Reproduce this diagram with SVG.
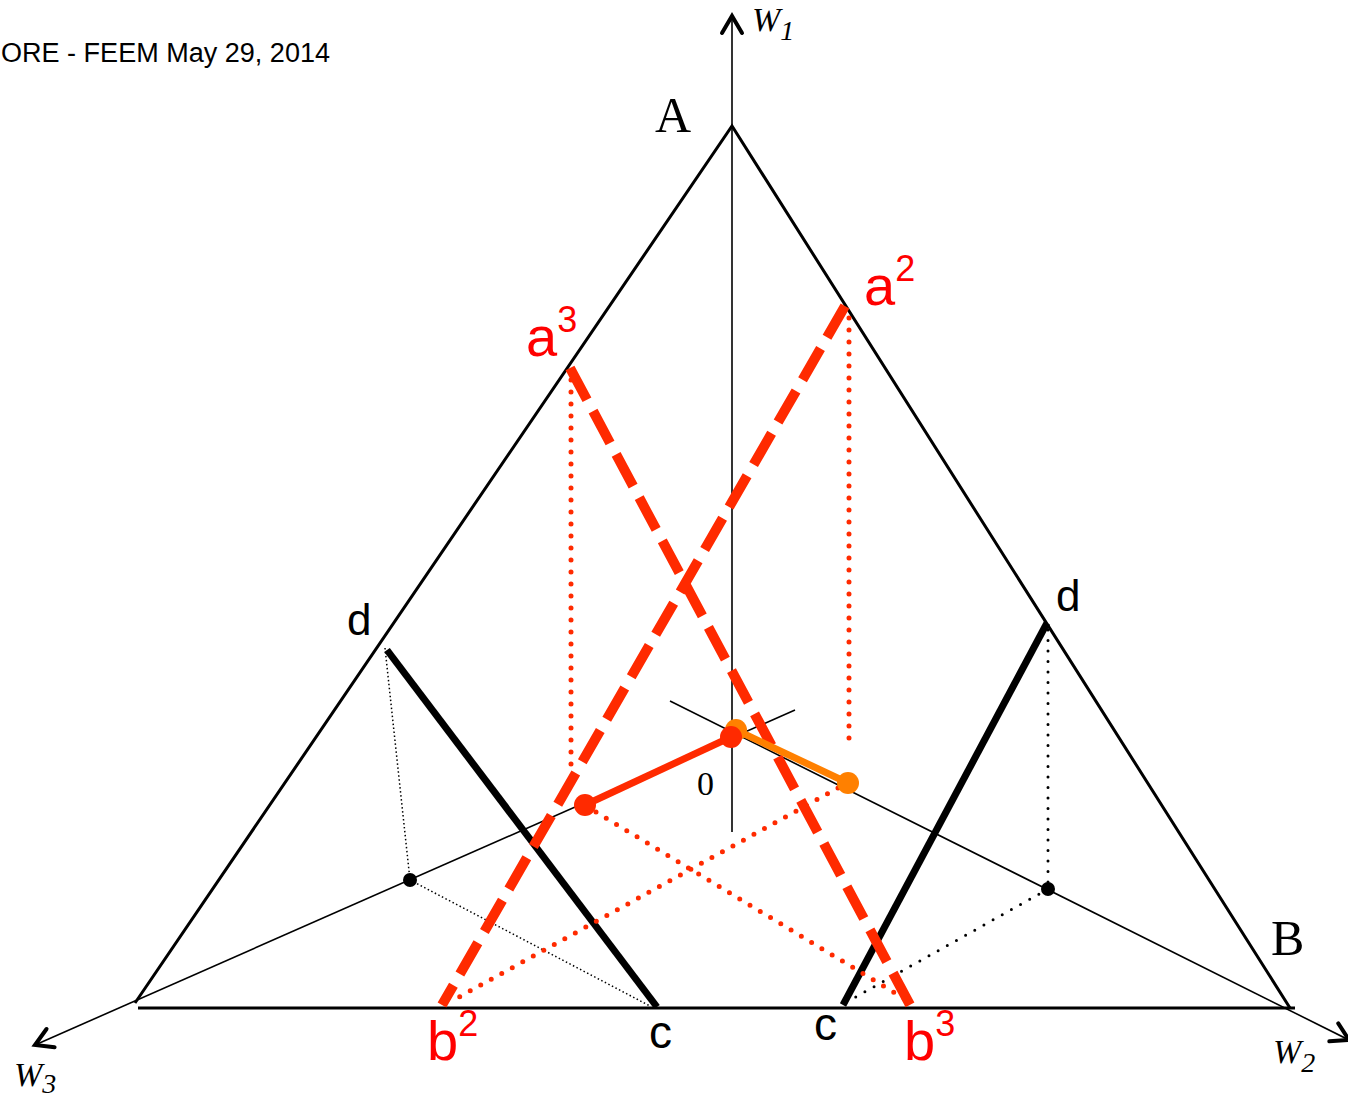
<svg xmlns="http://www.w3.org/2000/svg" width="1348" height="1102" viewBox="0 0 1348 1102">
<style>
.edge{fill:none;stroke:#000;stroke-width:3;stroke-linejoin:miter}
.axis{fill:none;stroke:#000;stroke-width:1.6}
.thick{fill:none;stroke:#000;stroke-width:7}
.fdot{fill:none;stroke:#000;stroke-width:1.5;stroke-dasharray:1.5 2.5}
.bdot{fill:none;stroke:#000;stroke-width:3;stroke-linecap:round;stroke-dasharray:0 10.5}
.rdash{fill:none;stroke:#FF2A00;stroke-width:10;stroke-dasharray:36 13}
.rdot{fill:none;stroke:#FF2A00;stroke-width:5;stroke-linecap:round;stroke-dasharray:0 12}
.sans{font-family:"Liberation Sans",Arial,sans-serif}
.serif{font-family:"Liberation Serif","Times New Roman",serif}
.red{fill:#FF0000}
</style>
<defs>
<marker id="chev" markerUnits="userSpaceOnUse" markerWidth="40" markerHeight="40" refX="0" refY="0" orient="auto" overflow="visible" viewBox="-20 -20 40 40">
<path d="M-17,-10 L0,0 L-17,10" fill="none" stroke="#000" stroke-width="4" stroke-linecap="round" stroke-linejoin="miter"/>
</marker>
</defs>
<text class="sans" x="1" y="62" font-size="27" textLength="329" lengthAdjust="spacingAndGlyphs">ORE - FEEM May 29, 2014</text>
<g id="connectors">
<line class="axis" x1="732" y1="832" x2="732" y2="16" marker-end="url(#chev)"/>
<line class="axis" x1="670" y1="701" x2="1349" y2="1040" marker-end="url(#chev)"/>
<line class="axis" x1="795" y1="710" x2="35" y2="1045" marker-end="url(#chev)"/>
<path class="edge" d="M135,1003 L732,126 L1290,1008"/>
<line class="edge" x1="138" y1="1008" x2="1295" y2="1008"/>
<line class="fdot" x1="385" y1="648" x2="410" y2="880"/>
<line class="fdot" x1="410" y1="880" x2="650" y2="1006"/>
<line class="bdot" x1="1048" y1="630" x2="1048" y2="889"/>
<line class="bdot" x1="1048" y1="889" x2="845" y2="1003"/>
<line class="thick" x1="387" y1="650" x2="657" y2="1007"/>
<line class="thick" x1="843" y1="1005" x2="1047" y2="623" stroke-width="6"/>
<line class="rdot" x1="571" y1="380" x2="571" y2="776"/>
<line class="rdot" x1="849" y1="318" x2="849" y2="746"/>
<line class="rdot" x1="596" y1="812" x2="910" y2="1002"/>
<line class="rdot" x1="838" y1="788" x2="450" y2="1002"/>
<line class="rdash" x1="570" y1="368" x2="910" y2="1005"/>
<line class="rdash" x1="845" y1="306" x2="442" y2="1005"/>
<line x1="736" y1="730" x2="848" y2="783" stroke="#FF8000" stroke-width="7"/>
<line x1="585" y1="805" x2="731" y2="737" stroke="#FF2A00" stroke-width="7"/>
</g>
<g id="node-origin">
<circle cx="736" cy="730" r="11" fill="#FF8000"/>
<circle cx="731" cy="737" r="11" fill="#FF2A00"/>
<text class="serif" x="697" y="795" font-size="34">0</text>
</g>
<g id="node-orange"><circle cx="848" cy="783" r="11" fill="#FF8000"/></g>
<g id="node-red"><circle cx="585" cy="805" r="11" fill="#FF2A00"/></g>
<g id="node-dot-left"><circle cx="410" cy="880" r="7" fill="#000"/></g>
<g id="node-dot-right"><circle cx="1048" cy="889" r="7" fill="#000"/></g>
<g id="labels">
<text class="serif" x="655" y="132" font-size="50">A</text>
<text class="serif" x="1271" y="955" font-size="50">B</text>
<text class="serif" x="752" y="31" font-size="34" font-style="italic">W<tspan font-size="28" dy="9">1</tspan></text>
<text class="serif" x="14" y="1086" font-size="34" font-style="italic">W<tspan font-size="28" dy="7">3</tspan></text>
<text class="serif" x="1273" y="1063" font-size="34" font-style="italic">W<tspan font-size="28" dy="9">2</tspan></text>
<text class="sans" x="347" y="635" font-size="44">d</text>
<text class="sans" x="1056" y="611" font-size="44">d</text>
<text class="sans" x="649" y="1048" font-size="46">c</text>
<text class="sans" x="814" y="1040" font-size="46">c</text>
<text class="sans red" x="526" y="356" font-size="56">a<tspan font-size="36" dy="-24">3</tspan></text>
<text class="sans red" x="864" y="305" font-size="56">a<tspan font-size="36" dy="-24">2</tspan></text>
<text class="sans red" x="427" y="1060" font-size="56">b<tspan font-size="36" dy="-24">2</tspan></text>
<text class="sans red" x="904" y="1060" font-size="56">b<tspan font-size="36" dy="-24">3</tspan></text>
</g>
</svg>
